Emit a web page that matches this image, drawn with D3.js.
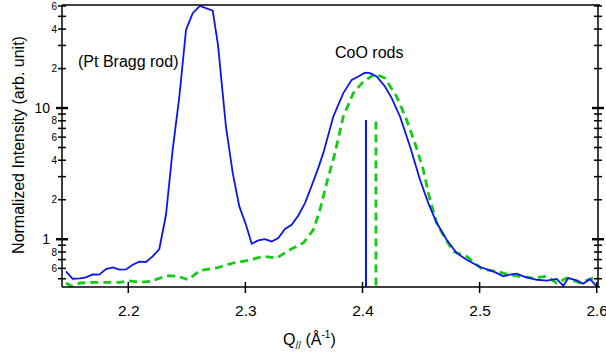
<!DOCTYPE html>
<html><head><meta charset="utf-8">
<script src="https://cdn.jsdelivr.net/npm/d3@7"></script>
<style>
body{margin:0;background:#fff;}
text{font-family:"Liberation Sans",Arial,sans-serif;fill:#000;}
</style></head>
<body><svg id="c" width="606" height="356"></svg>
<script>
// ---- data ----
const blueQ = [2.1468,2.1525,2.1588,2.1639,2.1696,2.1752,2.1810,2.1867,2.1923,2.1980,2.2038,2.2094,2.2151,2.2208,2.2265,2.2322,2.2379,2.2436,2.2493,2.2550,2.2612,2.2721,2.2766,2.2806,2.2834,2.2892,2.2948,2.3005,2.3054,2.3110,2.3167,2.3224,2.3281,2.3338,2.3395,2.3452,2.3509,2.3566,2.3622,2.3665,2.3751,2.3836,2.3908,2.3964,2.4021,2.4064,2.4121,2.4192,2.4249,2.4320,2.4406,2.4491,2.4562,2.4634,2.4719,2.4804,2.4890,2.5003,2.5117,2.5202,2.5259,2.5317,2.5373,2.5430,2.5488,2.5573,2.5658,2.5715,2.5757,2.5829,2.5885,2.5942,2.6000];
const blueI = [0.569,0.500,0.503,0.512,0.539,0.537,0.593,0.610,0.586,0.589,0.639,0.674,0.671,0.740,0.842,1.537,4.80,12.2,39.4,52.8,60.0,55.3,30.3,13.0,7.23,3.19,1.78,1.29,0.924,0.979,1.003,0.962,1.021,1.196,1.289,1.518,1.887,2.556,3.486,4.53,8.62,13.0,16.4,17.4,18.6,18.45,17.4,14.6,11.9,8.62,5.09,2.84,1.887,1.328,0.991,0.785,0.698,0.614,0.569,0.521,0.537,0.546,0.521,0.506,0.491,0.483,0.498,0.442,0.506,0.486,0.458,0.498,0.437];
const greenQ = [2.1468,2.1517,2.1588,2.1701,2.1816,2.1929,2.2000,2.2100,2.2185,2.2271,2.2328,2.2427,2.2512,2.2612,2.2755,2.2840,2.2897,2.3011,2.3153,2.3267,2.3381,2.3494,2.3580,2.3637,2.3694,2.3765,2.3836,2.3921,2.4007,2.4107,2.4192,2.4292,2.4377,2.4448,2.4519,2.4576,2.4634,2.4704,2.4775,2.4890,2.4975,2.5031,2.5146,2.5245,2.5345,2.5458,2.5573,2.5658,2.5744,2.5857,2.5971];
const greenI = [0.464,0.437,0.464,0.469,0.469,0.469,0.483,0.469,0.477,0.506,0.527,0.521,0.491,0.579,0.604,0.639,0.659,0.686,0.740,0.719,0.832,0.936,1.181,1.678,2.68,4.53,8.62,13.0,15.9,18.2,16.9,12.2,8.13,5.40,3.38,2.00,1.328,1.021,0.807,0.740,0.639,0.586,0.569,0.537,0.521,0.506,0.521,0.464,0.506,0.464,0.506];
const markerQ = [2.403, 2.4115];
const markerI = [8.1, 7.9];
const xTicks = [2.2, 2.3, 2.4, 2.5, 2.6];
const yTicks = [0.5,0.6,0.7,0.8,0.9,1,2,3,4,5,6,7,8,9,10,20,30,40,50,60];
const yMajor = [1, 10];
const yMinorLabels = {0.6:"6",0.8:"8",2:"2",4:"4",6:"6",8:"8",20:"2",40:"4",60:"6"};
const annotations = ["(Pt Bragg rod)", "CoO rods"];
const yTitle = "Normalized Intensity (arb. unit)";

// ---- layout ----
const L=62, R=598, T=5, B=287;
const svg = d3.select("#c");
const x = d3.scaleLinear().domain([2.1434, 2.6011]).range([L, R]);
const y = d3.scaleLog().domain([0.4325, 61]).range([B, T]);

svg.append("clipPath").attr("id","clip").append("rect")
  .attr("x",L).attr("y",T).attr("width",R-L).attr("height",B-T);

const blue="#0a14f5", green="#14cc14";

const line = d3.line().x(d=>x(d[0])).y(d=>y(d[1]));
const g = svg.append("g").attr("clip-path","url(#clip)");
g.append("path").datum(greenQ.map((q,i)=>[q,greenI[i]]))
  .attr("d",line).attr("fill","none").attr("stroke",green)
  .attr("stroke-width",2.8).attr("stroke-dasharray","8,5");
g.append("path").datum(blueQ.map((q,i)=>[q,blueI[i]]))
  .attr("d",line).attr("fill","none").attr("stroke",blue).attr("stroke-width",1.8);
// vertical markers
g.append("line").attr("x1",x(markerQ[0])).attr("x2",x(markerQ[0]))
  .attr("y1",y(markerI[0])).attr("y2",B).attr("stroke",blue).attr("stroke-width",2);
g.append("line").attr("x1",x(markerQ[1])).attr("x2",x(markerQ[1]))
  .attr("y1",y(markerI[1])).attr("y2",B).attr("stroke",green).attr("stroke-width",2.8)
  .attr("stroke-dasharray","8,5");

// frame
const ax = svg.append("g").attr("stroke","#000").attr("fill","none");
ax.append("line").attr("x1",L).attr("x2",R+2).attr("y1",T).attr("y2",T).attr("stroke-width",1.5);
ax.append("line").attr("x1",L).attr("x2",R+2).attr("y1",B).attr("y2",B).attr("stroke-width",1.5);
ax.append("line").attr("x1",L).attr("x2",L).attr("y1",T).attr("y2",B).attr("stroke-width",1.5);
ax.append("line").attr("x1",R).attr("x2",R).attr("y1",T).attr("y2",B).attr("stroke-width",1.5);

// x axis via d3 axis (labels) + crossing ticks
const xAxis = d3.axisBottom(x).tickValues(xTicks).tickFormat(d3.format(".1f")).tickSize(0).tickPadding(0);
const xg = svg.append("g").attr("transform",`translate(0,${B})`).call(xAxis);
xg.select(".domain").remove();
xg.selectAll("text").attr("dy",0).attr("y",28.5).style("font-size","15.5px")
  .style("font-family","Liberation Sans, Arial, sans-serif");
xTicks.forEach(v=>{
  ax.append("line").attr("x1",x(v)).attr("x2",x(v)).attr("y1",B-5).attr("y2",B+6).attr("stroke-width",1.5);
});

// y ticks (left & right)
yTicks.forEach(v=>{
  const major = yMajor.includes(v);
  const yy = y(v);
  const s = major ? 6 : 4;
  ax.append("line").attr("x1",L-s).attr("x2",L+s).attr("y1",yy).attr("y2",yy).attr("stroke-width",major?2.4:1.5);
  ax.append("line").attr("x1",R-s).attr("x2",R+s).attr("y1",yy).attr("y2",yy).attr("stroke-width",major?2.4:1.5);
});
const yl = svg.append("g");
yTicks.forEach(v=>{
  const yy=y(v);
  if (yMajor.includes(v)) {
    yl.append("text").attr("x",50).attr("y",yy+5).attr("text-anchor","end")
      .style("font-size","14px").text(d3.format("d")(v));
  } else if (yMinorLabels[v]!==undefined) {
    yl.append("text").attr("x",57).attr("y",yy+3.6).attr("text-anchor","end")
      .style("font-size","10px").text(yMinorLabels[v]);
  }
});

// titles
svg.append("text").attr("transform","translate(24,145) rotate(-90)").attr("text-anchor","middle")
  .style("font-size","16px").text(yTitle);
const xt = svg.append("text").attr("x",283).attr("y",345).style("font-size","16px");
xt.append("tspan").text("Q");
xt.append("tspan").attr("dy",4).style("font-size","10px").text("//");
xt.append("tspan").attr("dy",-4).text(" (Å");
xt.append("tspan").attr("dy",-7).style("font-size","10px").text("-1");
xt.append("tspan").attr("dy",7).text(")");

// annotations
svg.append("text").attr("x",78).attr("y",67).style("font-size","16px").text(annotations[0]);
svg.append("text").attr("x",335).attr("y",58).style("font-size","16px").text(annotations[1]);
</script></body></html>
